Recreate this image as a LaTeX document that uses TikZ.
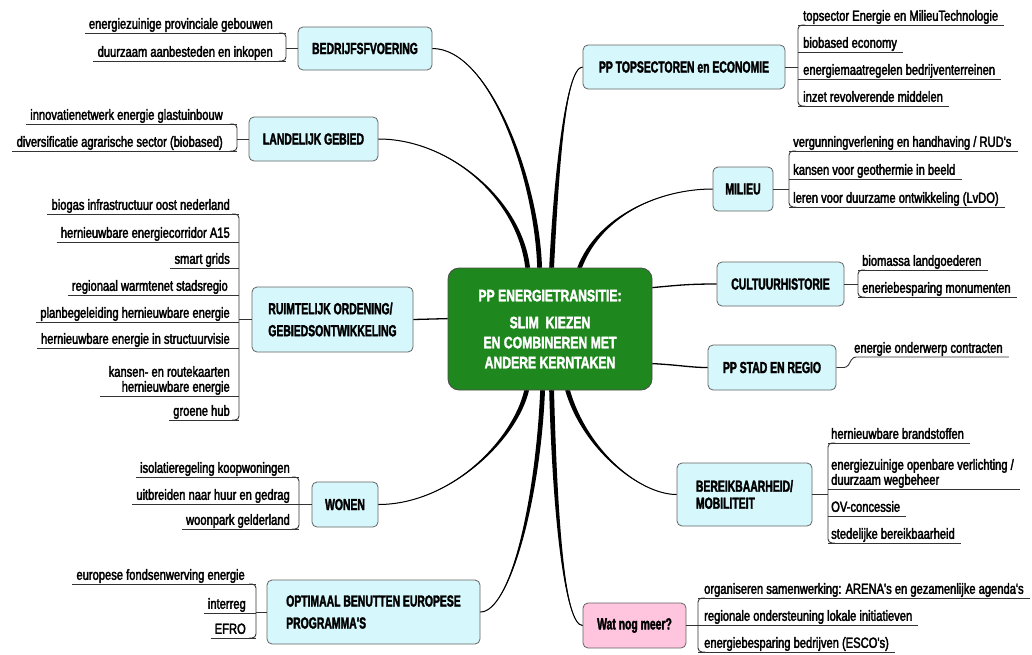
\documentclass[tikz,border=0pt]{standalone}
\usepackage{fontspec}
\setmainfont{Liberation Sans}
\newfontfamily\leaffont[FakeStretch=0.76,FakeBold=2.5]{Liberation Sans}
\newfontfamily\boxfont[FakeStretch=0.65,FakeBold=2]{Liberation Sans}
\newfontfamily\ctrfont[FakeStretch=0.74,FakeBold=2]{Liberation Sans}
\usetikzlibrary{calc}
\definecolor{boxcyan}{RGB}{214,248,252}
\definecolor{boxpink}{RGB}{255,196,222}
\definecolor{ctrgreen}{RGB}{30,135,30}
\definecolor{boxline}{RGB}{100,100,100}
\tikzset{
  branch/.style={draw=boxline, line width=0.8pt, fill=boxcyan, rounded corners=5pt,
    inner sep=0pt, align=left, font=\boxfont\bfseries\fontsize{16}{22}\selectfont},
  centrebox/.style={draw=black!70, line width=0.8pt, fill=ctrgreen, rounded corners=11pt,
    inner sep=0pt, align=center, text=white, font=\ctrfont\bfseries\fontsize{16.5}{20}\selectfont},
  leaf/.style={inner sep=0pt, text depth=4pt, font=\leaffont\fontsize{14.7}{15}\selectfont},
  leafm/.style={inner xsep=0pt, inner ysep=1pt, font=\leaffont\fontsize{14.7}{15}\selectfont},
  uline/.style={draw=black!80, line width=0.9pt},
  thinconn/.style={draw=black, line width=1.3pt},
}
% tapered connector: start, ctrl1, ctrl2, end, half width
\newcommand\taper[5]{%
  \fill ($#1+(-#5,0)$) .. controls ($#2+(-#5,0)$) and #3 .. #4
        .. controls #3 and ($#2+(#5,0)$) .. ($#1+(#5,0)$) -- cycle;
  \draw[line width=1pt] #1 .. controls #2 and #3 .. #4;}
% left leaf: name, text right x, underline y, bracket x, text
\newcommand\leafL[5]{%
  \node[leaf, anchor=south east] (#1) at (#2,#3) {#5};
  \draw[uline] ($(#1.south west)+(-4,0)$) -- (#4,#3);}
% right leaf: name, text left x, underline y, bracket x, text
\newcommand\leafR[5]{%
  \node[leaf, anchor=south west] (#1) at (#2,#3) {#5};
  \draw[uline] (#4,#3) -- ($(#1.south east)+(6,0)$);}
% left bracket: x, ytop, ybot, node
\newcommand\bracketL[4]{%
  \draw[uline, rounded corners=4pt] ({#1-7},#2) -- (#1,#2) -- (#1,#3) -- ({#1-7},#3);
  \coordinate (bx) at (#1,0);
  \draw[uline] (#4.west) -- (#4.west -| bx);}
\newcommand\bracketR[4]{%
  \draw[uline, rounded corners=4pt] ({#1+7},#2) -- (#1,#2) -- (#1,#3) -- ({#1+7},#3);
  \coordinate (bx) at (#1,0);
  \draw[uline] (#4.east) -- (#4.east -| bx);}
\begin{document}
\begin{tikzpicture}[x=1pt,y=-1pt]
\useasboundingbox (0,0) rectangle (1032,654);
\fill[white] (0,0) rectangle (1032,654);

% central node
\node[centrebox, minimum width=204pt, minimum height=122pt] (CTR) at (550,329)
  {PP ENERGIETRANSITIE:\\[7pt]SLIM~ KIEZEN\\EN COMBINEREN MET\\ANDERE KERNTAKEN};

% branch nodes
\node[branch, minimum width=134pt, minimum height=43pt] (B) at (365,48.5) {BEDRIJFSFVOERING};
\node[branch, minimum width=129pt, minimum height=44pt] (L) at (313.5,139) {LANDELIJK GEBIED};
\node[branch, minimum width=161pt, minimum height=65pt] (R) at (332.5,319.5) {RUIMTELIJK ORDENING/\\GEBIEDSONTWIKKELING};
\node[branch, minimum width=66pt, minimum height=45pt] (W) at (345,504.5) {WONEN};
\node[branch, minimum width=213pt, minimum height=64pt] (O) at (373.5,612) {OPTIMAAL BENUTTEN EUROPESE\\PROGRAMMA'S};
\node[branch, minimum width=202pt, minimum height=44pt] (T) at (684,67) {PP TOPSECTOREN en ECONOMIE};
\node[branch, minimum width=60pt, minimum height=44pt] (M) at (743,189) {MILIEU};
\node[branch, minimum width=127pt, minimum height=44pt] (C) at (780.5,284) {CULTUURHISTORIE};
\node[branch, minimum width=128pt, minimum height=45pt] (S) at (772,367.5) {PP STAD EN REGIO};
\node[branch, minimum width=135pt, minimum height=63pt, font=\boxfont\bfseries\fontsize{16}{17}\selectfont] (BM) at (744.5,494.5) {BEREIKBAARHEID/\\MOBILITEIT};
\node[branch, fill=boxpink, minimum width=103pt, minimum height=45pt] (Q) at (634.5,625.5) {Wat nog meer?};

% connector start points on the central node
\coordinate (tL) at ($(CTR.north west)+(80,0)$);
\coordinate (tB) at ($(CTR.north west)+(92,0)$);
\coordinate (tT) at ($(CTR.north west)+(104,0)$);
\coordinate (tM) at ($(CTR.north west)+(132,0)$);
\coordinate (bW) at ($(CTR.south west)+(79,0)$);
\coordinate (bO) at ($(CTR.south west)+(95,0)$);
\coordinate (bQ) at ($(CTR.south west)+(104,0)$);
\coordinate (bBM) at ($(CTR.south west)+(120,0)$);
\coordinate (rC) at ($(CTR.north east)+(0,20)$);
\coordinate (rS) at ($(CTR.north east)+(0,96)$);
\coordinate (lR) at ($(CTR.north west)+(0,51)$);

% connectors
\taper{(tB)}{(537,180)}{(490,48.5)}{(B.east)}{2.4}
\taper{(tL)}{(520,200)}{(450,139)}{(L.east)}{2.4}
\taper{(tT)}{(556,180)}{(565,67)}{(T.west)}{2.4}
\taper{(tM)}{(600,215)}{(660,189)}{(M.west)}{2.4}
\taper{(bW)}{(515,440)}{(450,504.5)}{(W.east)}{2.4}
\taper{(bO)}{(538,500)}{(510,612)}{(O.east)}{2.4}
\taper{(bQ)}{(555,520)}{(565,625.5)}{(Q.west)}{2.4}
\taper{(bBM)}{(585,450)}{(640,494.5)}{(BM.west)}{2.4}
\draw[thinconn] (rC) .. controls (680,285) and (690,284) .. (C.west);
\draw[thinconn] (rS) .. controls (680,365) and (690,367.5) .. (S.west);
\draw[thinconn] (lR) -- (R.east);

% ---- left leaves
\leafL{b1}{273}{33}{286}{energiezuinige provinciale gebouwen}
\leafL{b2}{273}{61}{286}{duurzaam aanbesteden en inkopen}
\bracketL{286}{33}{61}{B}

\leafL{l1}{223}{124}{237}{innovatienetwerk energie glastuinbouw}
\leafL{l2}{223}{151}{237}{diversificatie agrarische sector (biobased)}
\bracketL{237}{124}{151}{L}

\leafL{r1}{230}{214}{239}{biogas infrastructuur oost nederland}
\leafL{r2}{230}{242}{239}{hernieuwbare energiecorridor A15}
\leafL{r3}{230}{268}{239}{smart grids}
\leafL{r4}{228}{295}{239}{regionaal warmtenet stadsregio}
\leafL{r5}{230}{322}{239}{planbegeleiding hernieuwbare energie}
\leafL{r6}{230}{348}{239}{hernieuwbare energie in structuurvisie}
\node[leafm, align=right, anchor=south east] (r7) at (230,396) {kansen- en routekaarten\\hernieuwbare energie};
\draw[uline] ($(r7.south west)+(-8,0)$) -- (239,396);
\leafL{r8}{230}{420}{239}{groene hub}
\bracketL{239}{214}{420}{R}

\leafL{w1}{290}{477}{299}{isolatieregeling koopwoningen}
\leafL{w2}{290}{504}{299}{uitbreiden naar huur en gedrag}
\leafL{w3}{290}{529}{299}{woonpark gelderland}
\bracketL{299}{477}{529}{W}

\leafL{o1}{245}{584}{256}{europese fondsenwerving energie}
\leafL{o2}{246}{613}{256}{interreg}
\leafL{o3}{246}{638}{256}{EFRO}
\bracketL{256}{584}{638}{O}

% ---- right leaves
\leafR{t1}{803}{25}{798}{topsector Energie en MilieuTechnologie}
\leafR{t2}{803}{52}{798}{biobased economy}
\leafR{t3}{803}{79}{798}{energiemaatregelen bedrijventerreinen}
\leafR{t4}{803}{106}{798}{inzet revolverende middelen}
\bracketR{798}{25}{106}{T}

\leafR{m1}{793}{151}{789}{vergunningverlening en handhaving / RUD's}
\leafR{m2}{793}{179}{789}{kansen voor geothermie in beeld}
\leafR{m3}{793}{207}{789}{leren voor duurzame ontwikkeling (LvDO)}
\bracketR{789}{151}{207}{M}

\leafR{c1}{862}{270}{858}{biomassa landgoederen}
\leafR{c2}{862}{297}{858}{eneriebesparing monumenten}
\bracketR{858}{270}{297}{C}

\node[leaf, anchor=south west] (s1) at (854,357) {energie onderwerp contracten};
\draw[uline, rounded corners=3pt] (S.east) -- (847,367.5) -- (853,357) -- ($(s1.south east)+(6,0)$);

\leafR{e1}{831}{443}{828}{hernieuwbare brandstoffen}
\node[leafm, align=left, anchor=south west] (e2) at (831,489) {energiezuinige openbare verlichting /\\duurzaam wegbeheer};
\draw[uline] (828,489) -- ($(e2.south east)+(6,0)$);
\leafR{e3}{831}{516}{828}{OV-concessie}
\leafR{e4}{831}{543}{828}{stedelijke bereikbaarheid}
\bracketR{828}{443}{543}{BM}

\leafR{q1}{704}{598}{698}{organiseren samenwerking: ARENA's en gezamenlijke agenda's}
\leafR{q2}{704}{625}{698}{regionale ondersteuning lokale initiatieven}
\leafR{q3}{704}{652}{698}{energiebesparing bedrijven (ESCO's)}
\bracketR{698}{598}{652}{Q}
\end{tikzpicture}
\end{document}
